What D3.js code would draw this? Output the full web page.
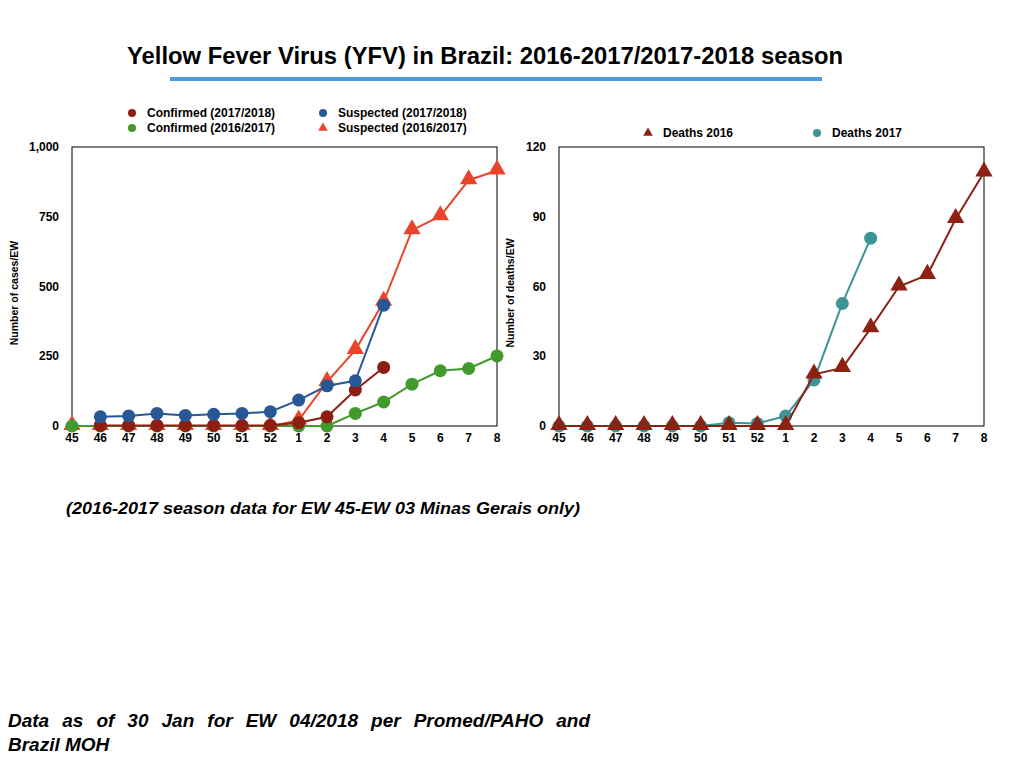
<!doctype html>
<html lang="en">
<head>
  <meta charset="utf-8">
  <title>Yellow Fever Virus in Brazil</title>
  <style>
    body { margin: 0; background: #fff; }
    svg { font-family: "Liberation Sans", Arial, sans-serif; }
    .tick-label { font-size: 12px; font-weight: bold; }
    .legend-label { font-size: 12px; font-weight: bold; }
    .axis-title { font-size: 10.5px; font-weight: bold; }
    .series-line { fill: none; stroke-width: 2; }
    .note { font-weight: bold; font-style: italic; }
  </style>
</head>
<body>
<script src="https://cdn.jsdelivr.net/npm/d3@7"></script>
<script>
(function() {

// epidemiological weeks
var weeks = ["45","46","47","48","49","50","51","52","1","2","3","4","5","6","7","8"];

// cases per EW (left chart); null = no data
var suspected1617 = [0,0,0,0,0,0,0,0,20,158,272,445,702,752,881,916];
var confirmed1617 = [0,0,0,0,0,0,0,0,0,0,45,86,150,198,206,251];
var confirmed1718 = [null,2,2,2,2,2,2,2,12,33,129,210,null,null,null,null];
var suspected1718 = [null,33,36,45,38,42,45,51,93,144,162,433,null,null,null,null];
var casesTicks = [0,250,500,750,1000];

// deaths per EW (right chart)
var deaths2017 = [0,0,0,0,0,0,1.4,1.1,4.3,19.8,52.7,80.8,null,null,null,null];
var deaths2016 = [0,0,0,0,0,0,0,0,0,22.2,25,42,60,65,89,109];
var deathsTicks = [0,30,60,90,120];

var svg = d3.select("body").append("svg")
    .attr("width", 1024)
    .attr("height", 768);

// title
svg.append("text")
    .attr("x", 127).attr("y", 64)
    .attr("textLength", 716).attr("lengthAdjust", "spacingAndGlyphs")
    .style("font-size", "23px").style("font-weight", "bold")
    .text("Yellow Fever Virus (YFV) in Brazil: 2016-2017/2017-2018 season");

svg.append("rect")
    .attr("x", 170).attr("y", 77).attr("width", 652).attr("height", 4)
    .attr("fill", "#4a9ae6");

var triangle = d3.symbol().type(d3.symbolTriangle);

function drawChart(opt) {
  var x = d3.scalePoint().domain(weeks).range([opt.left, opt.right]);
  var y = d3.scaleLinear().domain(opt.domain).range([426, 147]);
  var g = svg.append("g");

  g.append("rect")
      .attr("x", opt.left).attr("y", 147)
      .attr("width", opt.right - opt.left).attr("height", 426 - 147)
      .attr("fill", "none").attr("stroke", "#000").attr("stroke-width", 1);

  // y tick labels
  g.selectAll(".ytick").data(opt.ticks).enter().append("text")
      .attr("class", "tick-label")
      .attr("x", opt.left - 13)
      .attr("y", function(d) { return y(d) + 4; })
      .attr("text-anchor", "end")
      .text(function(d) { return d3.format(",")(d); });

  // x tick labels
  g.selectAll(".xtick").data(weeks).enter().append("text")
      .attr("class", "tick-label")
      .attr("x", function(d) { return x(d); })
      .attr("y", 442)
      .attr("text-anchor", "middle")
      .text(function(d) { return d; });

  g.append("text")
      .attr("class", "axis-title")
      .attr("transform", "translate(" + opt.titleX + ",293) rotate(-90)")
      .attr("text-anchor", "middle")
      .text(opt.title);

  var line = d3.line()
      .defined(function(d) { return d != null; })
      .x(function(d, i) { return x(weeks[i]); })
      .y(function(d) { return y(d); });

  opt.series.forEach(function(s) {
    g.append("path")
        .datum(s.values)
        .attr("class", "series-line")
        .attr("stroke", s.color)
        .attr("d", line);

    var pts = s.values.map(function(v, i) { return {v: v, w: weeks[i]}; })
        .filter(function(d) { return d.v != null; });

    if (s.shape === "triangle") {
      g.selectAll(null).data(pts).enter().append("path")
          .attr("d", triangle.size(130))
          .attr("transform", function(d) { return "translate(" + x(d.w) + "," + (y(d.v) - 1) + ")"; })
          .attr("fill", s.color);
    } else {
      g.selectAll(null).data(pts).enter().append("circle")
          .attr("cx", function(d) { return x(d.w); })
          .attr("cy", function(d) { return y(d.v); })
          .attr("r", 6.5)
          .attr("fill", s.color);
    }
  });

  // legend
  opt.legend.forEach(function(l) {
    if (l.shape === "triangle") {
      g.append("path")
          .attr("d", triangle.size(40))
          .attr("transform", "translate(" + l.x + "," + (l.y - 4) + ")")
          .attr("fill", l.color);
    } else {
      g.append("circle")
          .attr("cx", l.x).attr("cy", l.y - 4).attr("r", 4)
          .attr("fill", l.color);
    }
    g.append("text")
        .attr("class", "legend-label")
        .attr("x", l.x + 15).attr("y", l.y)
        .text(l.label);
  });
}

drawChart({
  left: 72, right: 497,
  domain: [0, 1000], ticks: casesTicks,
  title: "Number of cases/EW", titleX: 18,
  series: [
    {values: suspected1617, color: "#e8452c", shape: "triangle"},
    {values: confirmed1617, color: "#42992c", shape: "circle"},
    {values: confirmed1718, color: "#8c1e12", shape: "circle"},
    {values: suspected1718, color: "#275895", shape: "circle"}
  ],
  legend: [
    {x: 132, y: 117, color: "#8c1e12", shape: "circle", label: "Confirmed (2017/2018)"},
    {x: 132, y: 132, color: "#42992c", shape: "circle", label: "Confirmed (2016/2017)"},
    {x: 323, y: 117, color: "#275895", shape: "circle", label: "Suspected (2017/2018)"},
    {x: 323, y: 132, color: "#e8452c", shape: "triangle", label: "Suspected (2016/2017)"}
  ]
});

drawChart({
  left: 559, right: 984,
  domain: [0, 120], ticks: deathsTicks,
  title: "Number of deaths/EW", titleX: 514,
  series: [
    {values: deaths2017, color: "#3d9496", shape: "circle"},
    {values: deaths2016, color: "#8c2212", shape: "triangle"}
  ],
  legend: [
    {x: 648, y: 137, color: "#8c2212", shape: "triangle", label: "Deaths 2016"},
    {x: 817, y: 137, color: "#3d9496", shape: "circle", label: "Deaths 2017"}
  ]
});

svg.append("text")
    .attr("class", "note")
    .attr("x", 66).attr("y", 514)
    .attr("textLength", 514).attr("lengthAdjust", "spacingAndGlyphs")
    .style("font-size", "17px")
    .text("(2016-2017 season data for EW 45-EW 03 Minas Gerais only)");

// justified first line: spread the words to the full width
var line1 = svg.append("text")
    .attr("class", "note")
    .attr("x", 8).attr("y", 727)
    .style("font-size", "19px")
    .text("Data as of 30 Jan for EW 04/2018 per Promed/PAHO and");
var natural = line1.node().getComputedTextLength();
var gaps = line1.text().split(" ").length - 1;
line1.style("word-spacing", Math.max(0, (582 - natural) / gaps) + "px");

svg.append("text")
    .attr("class", "note")
    .attr("x", 8).attr("y", 751)
    .style("font-size", "19px")
    .text("Brazil MOH");

})();
</script>
</body>
</html>
